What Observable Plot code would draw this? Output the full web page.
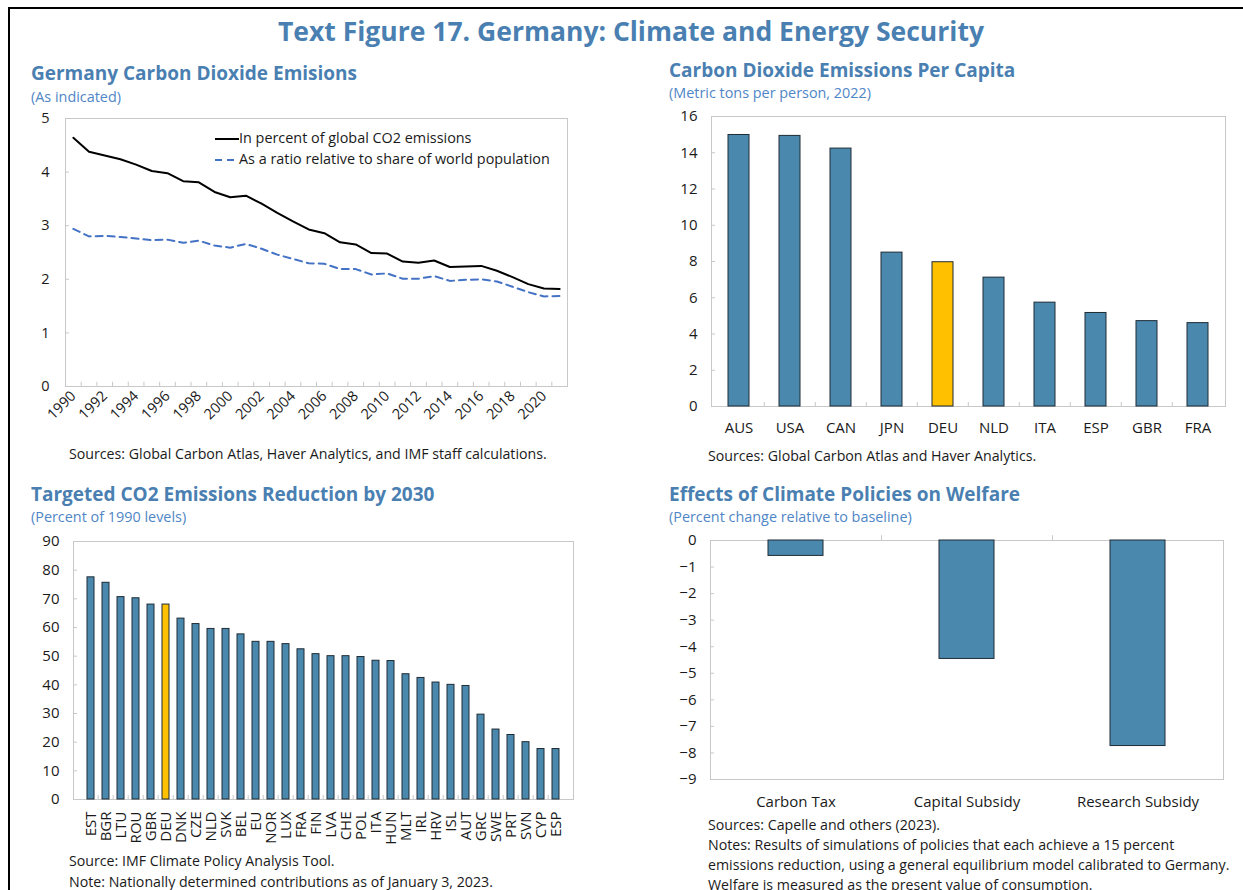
<!DOCTYPE html>
<html><head><meta charset="utf-8">
<script src="https://cdn.jsdelivr.net/npm/d3@7"></script>
<script src="https://cdn.jsdelivr.net/npm/@observablehq/plot@0.6"></script>
<style>
body{margin:0;background:#fff;}
#page{position:relative;width:1243px;height:890px;overflow:hidden;font-family:"Open Sans",sans-serif;background:#fff;}
.abs{position:absolute;white-space:nowrap;}
.frame{position:absolute;left:8px;top:7px;width:1400px;height:1000px;border:2px solid #000;box-sizing:border-box;}
.title{font-weight:700;color:#4a7fb2;font-size:26.5px;line-height:30px;}
.h{font-weight:700;color:#4a7fb2;font-size:19px;line-height:24px;}
.sub{color:#4f86c6;font-size:14.4px;line-height:16px;}
.note{color:#1a1a1a;font-size:14.2px;line-height:20px;}
.leg{color:#1a1a1a;font-size:14.4px;line-height:20px;}
.chart{position:absolute;}
</style></head>
<body><div id="page"></div>
<script>
// ---------- data ----------
const years = [1990,1991,1992,1993,1994,1995,1996,1997,1998,1999,2000,2001,2002,2003,2004,2005,2006,2007,2008,2009,2010,2011,2012,2013,2014,2015,2016,2017,2018,2019,2020,2021];
const pctGlobal = [4.64,4.38,4.31,4.24,4.14,4.02,3.98,3.83,3.81,3.63,3.53,3.56,3.41,3.24,3.08,2.93,2.86,2.69,2.65,2.49,2.48,2.33,2.31,2.35,2.23,2.24,2.25,2.16,2.04,1.91,1.83,1.82];
const ratioPop = [2.94,2.80,2.81,2.79,2.76,2.73,2.74,2.68,2.72,2.63,2.59,2.66,2.57,2.46,2.38,2.30,2.29,2.19,2.19,2.09,2.11,2.01,2.01,2.06,1.97,1.99,2.00,1.96,1.86,1.76,1.68,1.69];
const seriesNames = ["In percent of global CO2 emissions","As a ratio relative to share of world population"];

const capitaCountries = ["AUS","USA","CAN","JPN","DEU","NLD","ITA","ESP","GBR","FRA"];
const capitaValues = [14.98,14.93,14.23,8.49,7.96,7.11,5.73,5.16,4.71,4.60];

const targetCountries = ["EST","BGR","LTU","ROU","GBR","DEU","DNK","CZE","NLD","SVK","BEL","EU","NOR","LUX","FRA","FIN","LVA","CHE","POL","ITA","HUN","MLT","IRL","HRV","ISL","AUT","GRC","SWE","PRT","SVN","CYP","ESP"];
const targetValues = [77.5,75.6,70.6,70.2,68.0,68.0,63.1,61.2,59.5,59.5,57.6,55.0,55.0,54.2,52.4,50.7,50.0,50.0,49.7,48.4,48.3,43.7,42.4,40.8,40.0,39.6,29.6,24.4,22.5,20.0,17.6,17.6];

const policies = ["Carbon Tax","Capital Subsidy","Research Subsidy"];
const welfare = [-0.58,-4.46,-7.74];

const yTicks1 = [0,1,2,3,4,5];
const yTicks2 = [0,2,4,6,8,10,12,14,16];
const yTicks3 = [0,10,20,30,40,50,60,70,80,90];
const yTicks4 = [0,-1,-2,-3,-4,-5,-6,-7,-8,-9];

// ---------- styles ----------
const FONT = '"Open Sans", sans-serif';
const BLUE = "#4a89ad", YELLOW = "#ffc000", EDGE = "#1e2b35", GRID = "#c8c8c8";
const baseStyle = {fontFamily: FONT, fontSize: "15px", color: "#1a1a1a", background: "transparent", overflow: "visible"};

const page = document.getElementById("page");
function add(html, cls, left, top, extra = "") {
  const d = document.createElement("div");
  d.className = "abs " + cls;
  d.style.cssText = `left:${left}px;top:${top}px;${extra}`;
  d.innerHTML = html;
  page.appendChild(d);
  return d;
}
function place(svg, left, top) {
  svg.classList.add("chart");
  svg.style.left = left + "px";
  svg.style.top = top + "px";
  page.appendChild(svg);
}
const fr = document.createElement("div"); fr.className = "frame"; page.appendChild(fr);

// titles
add("Text Figure 17. Germany: Climate and Energy Security", "title", 0, 16, "width:1262px;text-align:center;");
add("Germany Carbon Dioxide Emisions", "h", 31, 61);
add("(As indicated)", "sub", 31, 89);
add("Carbon Dioxide Emissions Per Capita", "h", 669, 58);
add("(Metric tons per person, 2022)", "sub", 669, 85);
add("Targeted CO2 Emissions Reduction by 2030", "h", 31, 482);
add("(Percent of 1990 levels)", "sub", 31, 509);
add("Effects of Climate Policies on Welfare", "h", 669, 482);
add("(Percent change relative to baseline)", "sub", 669, 509);

// ---------- chart 1: lines ----------
{
  const W = 600, H = 345, ml = 65, mr = 33, mt = 18, mb = 59;
  const x0 = years[0] - 0.5, x1 = years[years.length - 1] + 0.5;
  const bounds = d3.range(years.length + 1).map(i => x0 + i);
  const d1 = years.map((y, i) => ({year: y, v: pctGlobal[i]}));
  const d2 = years.map((y, i) => ({year: y, v: ratioPop[i]}));
  const svg = Plot.plot({
    width: W, height: H, marginLeft: ml, marginRight: mr, marginTop: mt, marginBottom: mb,
    style: {...baseStyle, fontSize: "14.5px"},
    x: {type: "linear", domain: [x0, x1]},
    y: {domain: [0, 5]},
    marks: [
      Plot.frame({stroke: GRID}),
      Plot.ruleX(bounds, {y1: 0, y2: 0.08, stroke: GRID}),
      Plot.ruleY(yTicks1, {x1: x0, x2: x0 + 0.25, stroke: GRID}),
      Plot.axisY({ticks: yTicks1, tickFormat: "d", tickSize: 0, tickPadding: 16, label: null}),
      Plot.axisX({ticks: years.filter(y => y % 2 === 0), tickFormat: "d", tickRotate: -45, tickSize: 0, tickPadding: 7, label: null}),
      Plot.lineY(d2, {x: "year", y: "v", stroke: "#4472c4", strokeWidth: 2, strokeDasharray: "7,5"}),
      Plot.lineY(d1, {x: "year", y: "v", stroke: "#000", strokeWidth: 2})
    ]
  });
  place(svg, 0, 100);
  // legend
  add(`<svg width="24" height="6" style="vertical-align:middle"><line x1="0" y1="3" x2="24" y2="3" stroke="#000" stroke-width="2"/></svg>${seriesNames[0]}`, "leg", 215, 128);
  add(`<svg width="24" height="6" style="vertical-align:middle"><line x1="0" y1="3" x2="24" y2="3" stroke="#4472c4" stroke-width="2" stroke-dasharray="7,5"/></svg>${seriesNames[1]}`, "leg", 215, 149);
  add("Sources: Global Carbon Atlas, Haver Analytics, and IMF staff calculations.", "note", 69, 444);
}

// helper for band charts
function bandChart({cats, vals, W, H, ml, mr, mt, mb, ydom, yticks, pad, rotate, tickPadding, highlight, topTicks}) {
  const n = cats.length, step = (W - ml - mr) / n;
  const data = cats.map((c, i) => ({c, v: vals[i]}));
  const plotH = H - mt - mb;
  return Plot.plot({
    width: W, height: H, marginLeft: ml, marginRight: mr, marginTop: mt, marginBottom: mb,
    style: {...baseStyle},
    x: {domain: cats, paddingInner: pad, paddingOuter: pad / 2},
    y: {domain: ydom},
    color: {type: "identity"},
    marks: [
      Plot.frame({stroke: GRID}),
      Plot.ruleY(yticks, {stroke: GRID, insetRight: (W - ml - mr) - 4}),
      topTicks
        ? Plot.ruleX(cats.slice(1), {x: d => d, dx: -step / 2, y1: 0, y2: (ydom[1] - ydom[0]) * 0.02, stroke: GRID})
        : Plot.ruleX(cats.slice(1), {x: d => d, dx: -step / 2, stroke: GRID, insetTop: plotH - 4}),
      Plot.barY(data, {x: "c", y: "v", fill: d => d.c === highlight ? YELLOW : BLUE, stroke: EDGE, strokeWidth: 1}),
      Plot.axisY({ticks: yticks, tickSize: 0, tickPadding: 14, label: null}),
      Plot.axisX({tickSize: 0, tickPadding, tickRotate: rotate, label: null})
    ]
  });
}

// ---------- chart 2 ----------
place(bandChart({cats: capitaCountries, vals: capitaValues, W: 603, H: 340, ml: 71, mr: 18, mt: 16, mb: 34,
  ydom: [0, 16], yticks: yTicks2, pad: 0.58, rotate: 0, tickPadding: 16, highlight: "DEU"}), 640, 100);
add("Sources: Global Carbon Atlas and Haver Analytics.", "note", 708, 446);

// ---------- chart 3 ----------
place(bandChart({cats: targetCountries, vals: targetValues, W: 600, H: 365, ml: 73, mr: 27, mt: 16, mb: 91,
  ydom: [0, 90], yticks: yTicks3, pad: 0.53, rotate: -90, tickPadding: 12, highlight: "DEU"}), 0, 525);
add("Source: IMF Climate Policy Analysis Tool.", "note", 69, 851);
add("Note: Nationally determined contributions as of January 3, 2023.", "note", 69, 872);

// ---------- chart 4 ----------
place(bandChart({cats: policies, vals: welfare, W: 603, H: 290, ml: 70, mr: 20, mt: 15, mb: 36,
  ydom: [-9, 0], yticks: yTicks4, pad: 0.68, rotate: 0, tickPadding: 17, highlight: null, topTicks: true}), 640, 525);
add("Sources: Capelle and others (2023).", "note", 708, 815);
add("Notes: Results of simulations of policies that each achieve a 15 percent", "note", 708, 835);
add("emissions reduction, using a general equilibrium model calibrated to Germany.", "note", 708, 855);
add("Welfare is measured as the present value of consumption.", "note", 708, 875);
</script>
</body></html>
